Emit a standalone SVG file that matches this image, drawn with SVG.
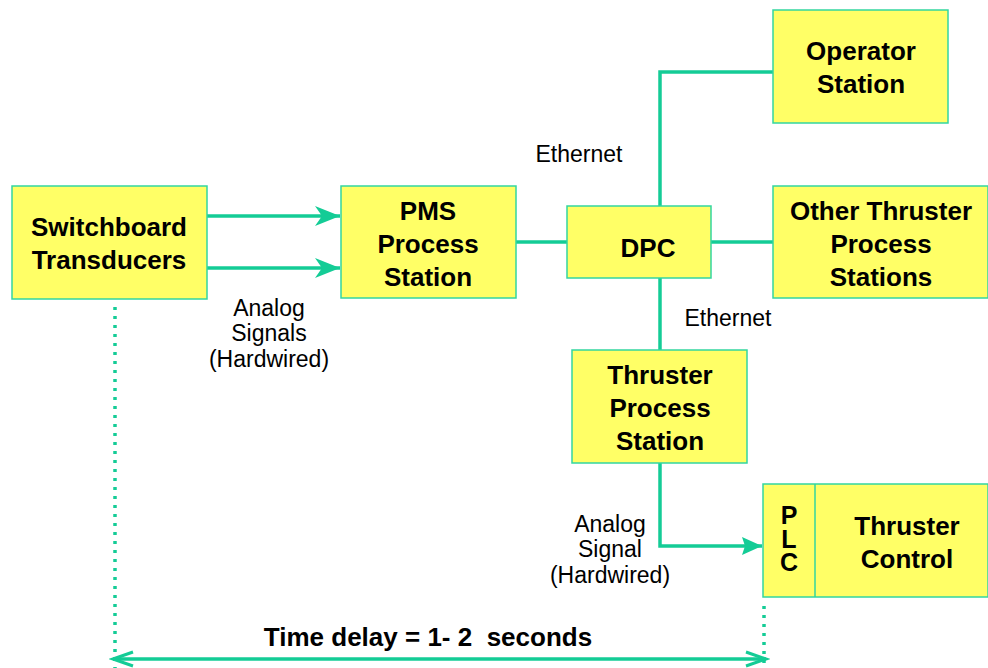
<svg xmlns="http://www.w3.org/2000/svg" width="988" height="668" viewBox="0 0 988 668">
<defs>
<style>
.box{fill:#ffff66;stroke:#33d6a0;stroke-width:1.5}
.bt{font-family:"Liberation Sans",Arial,sans-serif;font-weight:bold;font-size:26px;fill:#000;text-anchor:middle}
.lb{font-family:"Liberation Sans",Arial,sans-serif;font-size:23px;fill:#000;text-anchor:middle}
.ln{fill:none;stroke:#14cc96;stroke-width:3.5}
.dot{fill:none;stroke:#14cc96;stroke-width:3.5;stroke-dasharray:3 6}
</style>
<marker id="barb" markerUnits="userSpaceOnUse" markerWidth="30" markerHeight="24" refX="25" refY="10" orient="auto">
<path d="M0,0 L25,10 L0,20 L7,10 Z" fill="#14cc96"/>
</marker>
<marker id="tri" markerUnits="userSpaceOnUse" markerWidth="24" markerHeight="24" refX="20" refY="10" orient="auto">
<path d="M0,1 L20,10 L0,19 L3,10 Z" fill="#14cc96"/>
</marker>
<marker id="open" markerUnits="userSpaceOnUse" markerWidth="26" markerHeight="20" refX="22" refY="9" orient="auto-start-reverse">
<path d="M2,2 L22,9 L2,16" fill="none" stroke="#14cc96" stroke-width="3"/>
</marker>
</defs>
<rect width="988" height="668" fill="#fff"/>
<g id="connectors">
<line class="ln" x1="207" y1="216" x2="340" y2="216" marker-end="url(#barb)"/>
<line class="ln" x1="207" y1="268" x2="340" y2="268" marker-end="url(#barb)"/>
<line class="ln" x1="516" y1="242" x2="567" y2="242"/>
<line class="ln" x1="711" y1="242" x2="773" y2="242"/>
<polyline class="ln" points="660,206 660,72 773,72"/>
<line class="ln" x1="660" y1="278" x2="660" y2="350"/>
<polyline class="ln" points="660,463 660,546 762,546" marker-end="url(#tri)"/>
<line class="dot" x1="115" y1="307" x2="115" y2="668"/>
<line class="dot" x1="764" y1="606" x2="764" y2="668"/>
<line x1="113" y1="659" x2="766" y2="659" stroke="#14cc96" stroke-width="3.5" marker-start="url(#open)" marker-end="url(#open)"/>
</g>
<g id="switchboard">
<rect class="box" x="12" y="186" width="195" height="113"/>
<text class="bt" x="109" y="236">Switchboard</text>
<text class="bt" x="109" y="269">Transducers</text>
</g>
<g id="pms">
<rect class="box" x="341" y="186" width="175" height="112"/>
<text class="bt" x="428" y="220">PMS</text>
<text class="bt" x="428" y="253">Process</text>
<text class="bt" x="428" y="286">Station</text>
</g>
<g id="dpc">
<rect class="box" x="567" y="206" width="144" height="72"/>
<text class="bt" x="648" y="257">DPC</text>
</g>
<g id="operator">
<rect class="box" x="773" y="10" width="175" height="113"/>
<text class="bt" x="861" y="60">Operator</text>
<text class="bt" x="861" y="93">Station</text>
</g>
<g id="other">
<rect class="box" x="773" y="186" width="215" height="112"/>
<text class="bt" x="881" y="220">Other Thruster</text>
<text class="bt" x="881" y="253">Process</text>
<text class="bt" x="881" y="286">Stations</text>
</g>
<g id="thruster-ps">
<rect class="box" x="572" y="350" width="175" height="113"/>
<text class="bt" x="660" y="384">Thruster</text>
<text class="bt" x="660" y="417">Process</text>
<text class="bt" x="660" y="450">Station</text>
</g>
<g id="plc-thruster-control">
<rect class="box" x="763" y="484" width="225" height="113"/>
<line x1="815" y1="484" x2="815" y2="597" stroke="#33d6a0" stroke-width="1.5"/>
<text class="bt" x="789" y="524" style="font-size:25px"><tspan x="789">P</tspan><tspan x="789" dy="23.5">L</tspan><tspan x="789" dy="23.5">C</tspan></text>
<text class="bt" x="907" y="535">Thruster</text>
<text class="bt" x="907" y="568">Control</text>
</g>
<g id="labels">
<text class="lb" x="579" y="162">Ethernet</text>
<text class="lb" x="728" y="326">Ethernet</text>
<text class="lb" x="269" y="316">Analog</text>
<text class="lb" x="269" y="341">Signals</text>
<text class="lb" x="269" y="367">(Hardwired)</text>
<text class="lb" x="610" y="532">Analog</text>
<text class="lb" x="610" y="557">Signal</text>
<text class="lb" x="610" y="583">(Hardwired)</text>
<text x="428" y="646" style="font-family:'Liberation Sans',Arial,sans-serif;font-weight:bold;font-size:26px;text-anchor:middle;white-space:pre">Time delay = 1- 2  seconds</text>
</g>
</svg>
